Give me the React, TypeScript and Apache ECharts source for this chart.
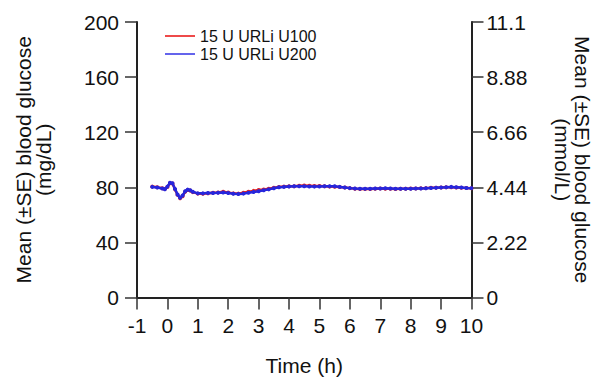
import React, { useEffect, useRef } from "react";
import * as echarts from "echarts";

// Time after dosing, in minutes
const timeMin = [
  -30, -20, -10, -5, 0, 5, 10, 15, 20, 25, 30, 35, 40, 45, 50, 60, 70, 80, 90,
  100, 110, 120, 130, 140, 150, 160, 170, 180, 190, 200, 210, 220, 230, 240,
  250, 260, 270, 280, 290, 300, 310, 320, 330, 340, 350, 360, 370, 380, 390,
  400, 410, 420, 430, 440, 450, 460, 470, 480, 490, 500, 510, 520, 530, 540,
  550, 560, 570, 580, 590, 600,
];

// Mean blood glucose (mg/dL)
const u100 = [
  80.5, 80.0, 79.3, 78.8, 80.2, 83.0, 82.8, 78.5, 74.5, 72.0, 73.5, 76.8, 78.0,
  77.6, 76.5, 75.4, 75.3, 75.6, 76.0, 76.3, 76.7, 76.2, 75.6, 75.4, 76.0, 76.8,
  77.4, 78.0, 78.4, 79.0, 79.6, 80.2, 80.5, 80.7, 80.8, 81.2, 81.3, 81.2, 81.0,
  81.0, 80.8, 80.5, 80.4, 80.2, 79.8, 79.4, 79.0, 78.8, 78.7, 78.8, 79.0, 79.2,
  79.0, 78.9, 78.8, 78.9, 79.0, 79.1, 79.2, 79.3, 79.4, 79.6, 79.7, 79.9, 80.0,
  80.0, 79.9, 79.6, 79.5, 79.3,
];
const u200 = [
  80.3, 79.8, 79.1, 78.6, 80.5, 83.3, 83.0, 78.8, 74.8, 72.4, 74.0, 77.2, 78.3,
  77.8, 76.8, 75.6, 75.6, 75.8, 75.9, 76.0, 76.2, 75.8, 75.3, 75.1, 75.4, 76.0,
  76.6, 77.2, 77.8, 78.5, 79.3, 80.0, 80.3, 80.6, 80.7, 80.8, 80.8, 80.6, 80.5,
  80.6, 80.7, 80.8, 80.7, 80.3, 79.9, 79.4, 79.1, 79.0, 78.9, 79.0, 79.1, 79.2,
  79.3, 79.2, 79.0, 79.0, 78.9, 79.0, 79.1, 79.2, 79.3, 79.5, 79.6, 79.8, 80.0,
  80.3, 80.1, 79.8, 79.5, 79.4,
];

const seriesNames = ["15 U URLi U100", "15 U URLi U200"];
const seriesColors = ["#e02424", "#2626dc"];
const legendColors = ["#ee4a4a", "#6464ec"];
const rightTickLabels = ["0", "2.22", "4.44", "6.66", "8.88", "11.1"];

const FONT = "Liberation Sans, Arial, Helvetica, sans-serif";

export default function App() {
  const ref = useRef<HTMLDivElement>(null);

  useEffect(() => {
    if (!ref.current) return;
    const chart = echarts.init(ref.current, undefined, { renderer: "svg" });

    const mk = (vals: number[]) => timeMin.map((m, i) => [m / 60, vals[i]]);

    const axisLine = {
      show: true,
      onZero: false,
      lineStyle: { color: "#222", width: 2 },
    };
    const axisTick = {
      show: true,
      inside: false,
      length: 12,
      lineStyle: { color: "#333", width: 1.5 },
    };
    const labelStyle = { color: "#111", fontSize: 21, fontFamily: FONT };

    chart.setOption({
      animation: false,
      backgroundColor: "#fff",
      grid: { left: 137, right: 126, top: 22, bottom: 79, containLabel: false },
      legend: {
        orient: "vertical",
        left: 160,
        top: 23,
        itemWidth: 30,
        itemHeight: 2,
        itemGap: 2,
        textStyle: { color: "#111", fontSize: 16, fontFamily: FONT },
        data: seriesNames.map((n, i) => ({
          name: n,
          icon: "rect",
          itemStyle: { color: legendColors[i] },
        })),
      },
      xAxis: {
        type: "value",
        min: -1,
        max: 10,
        interval: 1,
        axisLine,
        axisTick,
        splitLine: { show: false },
        axisLabel: { ...labelStyle, margin: 17 },
        name: "Time (h)",
        nameLocation: "middle",
        nameGap: 68,
        nameTextStyle: { ...labelStyle, verticalAlign: "middle" },
      },
      yAxis: [
        {
          type: "value",
          position: "left",
          min: 0,
          max: 200,
          interval: 40,
          axisLine,
          axisTick,
          splitLine: { show: false },
          axisLabel: { ...labelStyle, margin: 18 },
          name: "Mean (±SE) blood glucose\n(mg/dL)",
          nameLocation: "middle",
          nameRotate: 90,
          nameGap: 104,
          nameTextStyle: {
            ...labelStyle,
            lineHeight: 20,
            align: "center",
            verticalAlign: "middle",
          },
        },
        {
          type: "value",
          position: "right",
          min: 0,
          max: 200,
          interval: 40,
          axisLine,
          axisTick,
          splitLine: { show: false },
          axisLabel: {
            ...labelStyle,
            margin: 15,
            formatter: (v: number) => rightTickLabels[Math.round(v / 40)] ?? "",
          },
          name: "Mean (±SE) blood glucose\n(mmol/L)",
          nameLocation: "middle",
          nameRotate: -90,
          nameGap: 101,
          nameTextStyle: {
            ...labelStyle,
            lineHeight: 20,
            align: "center",
            verticalAlign: "middle",
          },
        },
      ],
      series: [u100, u200].map((vals, i) => ({
        name: seriesNames[i],
        type: "line",
        data: mk(vals),
        symbol: "circle",
        symbolSize: 4,
        showSymbol: true,
        lineStyle: { color: seriesColors[i], width: 2.5 },
        itemStyle: { color: seriesColors[i] },
        z: 2 + i,
      })),
    });

    return () => chart.dispose();
  }, []);

  return (
    <div
      ref={ref}
      style={{ position: "fixed", left: 0, top: 0, width: 601, height: 381 }}
    />
  );
}
